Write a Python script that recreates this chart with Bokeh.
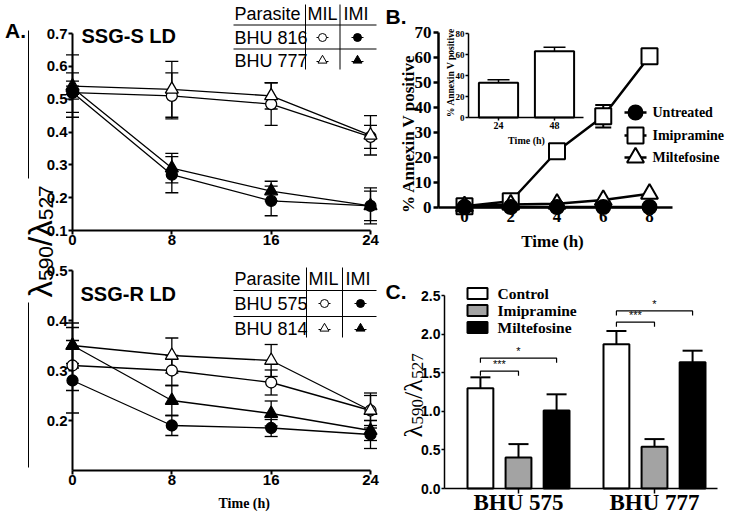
import math
from bokeh.plotting import figure
from bokeh.models import (Range1d, LinearAxis, FixedTicker, Whisker, TeeHead, Label,
                          ColumnDataSource)
from bokeh.core.properties import value
from bokeh.embed import file_html
from bokeh.resources import INLINE

# ======================= DATA =======================
# Panel A - time course (h)
time_a = [0, 8, 16, 24]
a_xticks = [0, 8, 16, 24]
a_top_yticks = [0.1, 0.2, 0.3, 0.4, 0.5, 0.6, 0.7]
a_top_ylabels = ["0.1", "0.2", "0.3", "0.4", "0.5", "0.6", "0.7"]
a_bot_yticks = [0.2, 0.3, 0.4, 0.5]
a_bot_ylabels = ["0.2", "0.3", "0.4", "0.5"]

# SSG-S LD
ssgs_816_mil = [0.52, 0.51, 0.485, 0.385]
ssgs_816_mil_err = [0.06, 0.07, 0.065, 0.035]
ssgs_777_mil = [0.54, 0.53, 0.51, 0.39]
ssgs_777_mil_err = [0.095, 0.085, 0.04, 0.06]
ssgs_816_imi = [0.52, 0.27, 0.19, 0.175]
ssgs_816_imi_err = [0.02, 0.055, 0.045, 0.055]
ssgs_777_imi = [0.535, 0.29, 0.22, 0.175]
ssgs_777_imi_err = [0.02, 0.045, 0.03, 0.045]

# SSG-R LD
ssgr_575_mil = [0.31, 0.30, 0.276, 0.22]
ssgr_575_mil_err = [0.05, 0.03, 0.025, 0.035]
ssgr_814_mil = [0.35, 0.33, 0.32, 0.22]
ssgr_814_mil_err = [0.036, 0.035, 0.032, 0.03]
ssgr_575_imi = [0.28, 0.19, 0.185, 0.172]
ssgr_575_imi_err = [0.065, 0.02, 0.017, 0.028]
ssgr_814_imi = [0.35, 0.24, 0.214, 0.18]
ssgr_814_imi_err = [0.045, 0.03, 0.025, 0.02]

# Panel B - % Annexin V positive
time_b = [0, 2, 4, 6, 8]
b_xticks = [0, 2, 4, 6, 8]
b_yticks = [0, 10, 20, 30, 40, 50, 60, 70]
b_untreated = [0.2, 0.2, 0.2, 0.2, 0.2]
b_imipramine = [0.5, 2.5, 22.5, 36.5, 60.5]
b_imipramine_err = [0, 0, 0, 4.5, 0]
b_miltefosine = [0.5, 1.2, 1.5, 3.0, 5.5]
b_series = ["Untreated", "Imipramine", "Miltefosine"]

# Panel B inset
inset_times = ["24", "48"]
inset_values = [33, 63]
inset_err = [3, 4]
inset_yticks = [0, 20, 40, 60, 80]

# Panel C
strains = ["BHU 575", "BHU 777"]
treatments = ["Control", "Imipramine", "Miltefosine"]
c_control = [1.30, 1.87]
c_control_err = [0.14, 0.17]
c_imipramine = [0.40, 0.54]
c_imipramine_err = [0.175, 0.10]
c_miltefosine = [1.01, 1.635]
c_miltefosine_err = [0.21, 0.15]
c_yticks = [0.0, 0.5, 1.0, 1.5, 2.0, 2.5]
c_ylabels = ["0.0", "0.5", "1.0", "1.5", "2.0", "2.5"]
sig_labels = ["***", "*"]
sig_heights = [[1.52, 1.69], [2.155, 2.30]]

# ======================= LAYOUT =======================
SANS = "Liberation Sans"
SERIF = "Liberation Serif"
W, H = 729, 517
X0, Y0 = 0, 0
GRAY = "#a3a3a3"


def lin(v0, p0, v1, p1):
    k = (v1 - v0) / (p1 - p0)
    return lambda px: v0 + (px - p0) * k


fxA = lin(0, 72, 24, 370)
fyAt = lin(0.1, 230, 0.7, 33)
fyAb = lin(0.1, 470, 0.5, 270)
fxB = lin(0, 464, 8, 649)
fyB = lin(0, 207, 70, 32)
fxI = lin(1, 498, 2, 554)
fyI = lin(0, 117, 80, 33)
fxC = lin(0, 518, 1, 654)
fyC = lin(0, 488, 2.5, 295)


def xr(f):
    return Range1d(start=f(X0), end=f(X0 + W))


def yr(f):
    return Range1d(start=f(Y0 + H), end=f(Y0))


p = figure(width=W, height=H, x_range=Range1d(X0, X0 + W), y_range=Range1d(Y0 + H, Y0),
           x_axis_type=None, y_axis_type=None, toolbar_location=None,
           output_backend="svg", min_border=0, outline_line_color=None)
p.min_border_left = 0
p.min_border_right = 0
p.min_border_top = 0
p.min_border_bottom = 0
p.extra_x_ranges = {"A": xr(fxA), "B": xr(fxB), "I": xr(fxI), "C": xr(fxC)}
p.extra_y_ranges = {"At": yr(fyAt), "Ab": yr(fyAb), "B": yr(fyB), "I": yr(fyI), "C": yr(fyC)}


def add_axis(side, xn, yn, loc, bounds, ticks, font, size, lw=2, tick_out=4, standoff=2,
             overrides=None, style="bold"):
    ax = LinearAxis(x_range_name=xn, y_range_name=yn, fixed_location=loc, bounds=bounds,
                    ticker=FixedTicker(ticks=ticks, minor_ticks=[]))
    ax.axis_line_width = lw
    ax.axis_line_color = "black"
    ax.major_tick_line_width = lw
    ax.major_tick_line_color = "black"
    ax.major_tick_out = tick_out
    ax.major_tick_in = 0
    ax.minor_tick_out = 0
    ax.minor_tick_in = 0
    ax.major_label_standoff = standoff
    ax.major_label_text_font = font
    ax.major_label_text_font_size = f"{size}px"
    ax.major_label_text_font_style = style
    ax.major_label_text_color = "black"
    if overrides:
        ax.major_label_overrides = overrides
    p.add_layout(ax, side)
    return ax


def lab(x, y, text, size, font=SANS, style="bold", align="left", baseline="middle", angle=0.0):
    p.add_layout(Label(x=x, y=y, text=text, text_font=font, text_font_size=f"{size}px",
                       text_font_style=style, text_align=align, text_baseline=baseline,
                       angle=angle, text_color="black"))


def whisk(xs, ys, errs, xn, yn, lw, cap, lower=True):
    keep = [i for i, e in enumerate(errs) if e > 0]
    src = ColumnDataSource(dict(
        x=[xs[i] for i in keep],
        lo=[(ys[i] - errs[i]) if lower else ys[i] for i in keep],
        hi=[ys[i] + errs[i] for i in keep]))
    p.add_layout(Whisker(source=src, base="x", lower="lo", upper="hi", dimension="height",
                         line_width=lw, line_color="black",
                         upper_head=TeeHead(size=cap, line_width=lw, line_color="black"),
                         lower_head=TeeHead(size=cap, line_width=lw, line_color="black") if lower else None,
                         x_range_name=xn, y_range_name=yn))


# ----------------------- Panel A -----------------------
add_axis("left", "A", "At", 0, (0.1, 0.7), a_top_yticks, SANS, 15, lw=2, tick_out=4, standoff=1,
         overrides=dict(zip(a_top_yticks, a_top_ylabels)))
add_axis("below", "A", "At", 0.1, (0, 24), a_xticks, SANS, 15, lw=2, tick_out=4, standoff=0)
add_axis("left", "A", "Ab", 0, (0.1, 0.5), a_bot_yticks, SANS, 15, lw=2, tick_out=4, standoff=1,
         overrides=dict(zip(a_bot_yticks, a_bot_ylabels)))
add_axis("below", "A", "Ab", 0.1, (0, 24), a_xticks, SANS, 15, lw=2, tick_out=4, standoff=0)

a_sets = [
    ("At", [(ssgs_816_mil, ssgs_816_mil_err, "circle", "white"),
            (ssgs_777_mil, ssgs_777_mil_err, "triangle", "white"),
            (ssgs_816_imi, ssgs_816_imi_err, "circle", "black"),
            (ssgs_777_imi, ssgs_777_imi_err, "triangle", "black")]),
    ("Ab", [(ssgr_575_mil, ssgr_575_mil_err, "circle", "white"),
            (ssgr_814_mil, ssgr_814_mil_err, "triangle", "white"),
            (ssgr_575_imi, ssgr_575_imi_err, "circle", "black"),
            (ssgr_814_imi, ssgr_814_imi_err, "triangle", "black")]),
]
for yn, series in a_sets:
    for ys, es, mk, fc in series:
        whisk(time_a, ys, es, "A", yn, 1.3, 13)
    for ys, es, mk, fc in series:
        p.line(time_a, ys, line_color="black", line_width=1.3, x_range_name="A", y_range_name=yn)
    for ys, es, mk, fc in series:
        p.scatter(time_a, ys, marker=mk, size=11 if mk == "circle" else 13, fill_color=fc,
                  line_color="black", line_width=1.3, x_range_name="A", y_range_name=yn)

# titles, tables
lab(15, 30, "A.", 21, align="center")
lab(81, 35, "SSG-S LD", 20)
lab(80, 293, "SSG-R LD", 20)
lab(218, 503, "Time (h)", 14, font=SERIF)

tables = [
    dict(top=4, bot=69, hdr=13, rows=[37, 60], hl=[24.5, 48.5], vl=[305, 339.5],
         names=["BHU 816", "BHU 777"], mil=307, imi=343, cm=322, ci=357),
    dict(top=267, bot=337, hdr=278, rows=[303, 328], hl=[290, 316], vl=[306, 342],
         names=["BHU 575", "BHU 814"], mil=308, imi=345, cm=324, ci=360),
]
for t in tables:
    lab(234, t["hdr"], "Parasite", 18, style="normal")
    lab(t["mil"], t["hdr"], "MIL", 18, style="normal")
    lab(t["imi"], t["hdr"], "IMI", 18, style="normal")
    for nm, ry in zip(t["names"], t["rows"]):
        lab(234, ry, nm, 18, style="normal")
    p.segment(x0=[233, 233], y0=t["hl"], x1=[376, 376], y1=t["hl"], line_color="black", line_width=1)
    p.segment(x0=t["vl"], y0=[t["top"]] * 2, x1=t["vl"], y1=[t["bot"]] * 2, line_color="black", line_width=1)
    r1, r2 = t["rows"]
    p.segment(x0=[t["cm"] - 6, t["ci"] - 6, t["cm"] - 6, t["ci"] - 6],
              y0=[r1, r1, r2 + 1, r2 + 1],
              x1=[t["cm"] + 6, t["ci"] + 6, t["cm"] + 6, t["ci"] + 6],
              y1=[r1, r1, r2 + 1, r2 + 1], line_color="black", line_width=1)
    p.scatter([t["cm"], t["ci"]], [r1, r1], marker="circle", size=8,
              fill_color=["white", "black"], line_color="black", line_width=1)
    p.scatter([t["cm"], t["ci"]], [r2, r2], marker="triangle", size=9,
              fill_color=["white", "black"], line_color="black", line_width=1)

# left y label of panel A (lambda590/lambda527) with rules
p.segment(x0=[28, 28], y0=[30, 302], x1=[28, 28], y1=[178, 467], line_color="black", line_width=1)
UP = math.pi / 2
lab(40, 297, "λ", 33, style="normal", baseline="alphabetic", angle=UP)
lab(45, 280.5, "590", 21, style="normal", baseline="alphabetic", angle=UP)
lab(40, 245.5, "/", 33, style="normal", baseline="alphabetic", angle=UP)
lab(40, 236.3, "λ", 33, style="normal", baseline="alphabetic", angle=UP)
lab(45, 219.8, "527", 21, style="normal", baseline="alphabetic", angle=UP)

# ----------------------- Panel B -----------------------
add_axis("left", "B", "B", fxB(438), (0, 70), b_yticks, SERIF, 17, lw=2.5, tick_out=5, standoff=2)
add_axis("below", "B", "B", 0, (fxB(438), fxB(672)), b_xticks, SERIF, 17, lw=2.5, tick_out=4, standoff=-1)

whisk(time_b, b_imipramine, b_imipramine_err, "B", "B", 2, 16)
for ys in (b_imipramine, b_miltefosine, b_untreated):
    p.line(time_b, ys, line_color="black", line_width=2.5, x_range_name="B", y_range_name="B")
p.scatter(time_b, b_imipramine, marker="square", size=16, fill_color="white", line_color="black",
          line_width=2, x_range_name="B", y_range_name="B")
p.scatter(time_b, b_miltefosine, marker="triangle", size=17, fill_color="white", line_color="black",
          line_width=2, x_range_name="B", y_range_name="B")
p.scatter(time_b, b_untreated, marker="circle", size=14, fill_color="black", line_color="black",
          line_width=2, x_range_name="B", y_range_name="B")

lab(385, 16, "B.", 21)
lab(408, 133, "% Annexin V positive", 17, font=SERIF, align="center", angle=UP)
lab(552, 241, "Time (h)", 17, font=SERIF, align="center")

# legend B
leg_y = [112, 135, 157]
p.segment(x0=[624] * 3, y0=leg_y, x1=[646] * 3, y1=leg_y, line_color="black", line_width=2.5)
p.scatter([635], [leg_y[0]], marker="circle", size=14, fill_color="black", line_color="black", line_width=2)
p.scatter([635], [leg_y[1]], marker="square", size=16, fill_color="white", line_color="black", line_width=2)
p.scatter([635], [leg_y[2]], marker="triangle", size=17, fill_color="white", line_color="black", line_width=2)
for nm, ly in zip(b_series, leg_y):
    lab(652, ly, nm, 14, font=SERIF)

# inset
inset_x = [i + 1 for i in range(len(inset_times))]
add_axis("left", "I", "I", fxI(468), (0, 80), inset_yticks, SERIF, 9, lw=1.5, tick_out=3, standoff=1)
add_axis("below", "I", "I", 0, (fxI(468), fxI(583)), inset_x, SERIF, 10, lw=1.5, tick_out=3, standoff=1,
         overrides=dict(zip(inset_x, inset_times)))
p.vbar(x=inset_x, top=inset_values, bottom=0, width=0.7, fill_color="white", line_color="black",
       line_width=2, x_range_name="I", y_range_name="I")
whisk(inset_x, inset_values, inset_err, "I", "I", 1.5, 22)
lab(450, 72, "% Annexin V positive", 9.5, font=SERIF, align="center", angle=UP)
lab(526, 140, "Time (h)", 10, font=SERIF, align="center")

# ----------------------- Panel C -----------------------
grp = list(range(len(strains)))
add_axis("left", "C", "C", fxC(444), (0, 2.5), c_yticks, SANS, 14, lw=1.5, tick_out=3, standoff=1,
         overrides=dict(zip(c_yticks, c_ylabels)))
add_axis("below", "C", "C", 0, (fxC(444), fxC(717)), grp, SERIF, 23, lw=1.5, tick_out=5, standoff=-4,
         overrides=dict(zip(grp, strains)))

offsets = [-0.28, 0.0, 0.28]
fills = ["white", GRAY, "black"]
c_vals = [(c_control, c_control_err), (c_imipramine, c_imipramine_err), (c_miltefosine, c_miltefosine_err)]
for off, fc, (vals, errs) in zip(offsets, fills, c_vals):
    xs = [g + off for g in grp]
    whisk(xs, vals, errs, "C", "C", 2, 20, lower=False)
    p.vbar(x=xs, top=vals, bottom=0, width=0.19, fill_color=fc, line_color="black", line_width=2,
           x_range_name="C", y_range_name="C")

bx, by, tx, ty, tt = [], [], [], [], []
d = 0.06
for g, hs in zip(grp, sig_heights):
    for (h, lbl, tgt) in zip(hs, sig_labels, [offsets[1], offsets[2]]):
        x0, x1 = g + offsets[0], g + tgt
        bx.append([x0, x0, x1, x1])
        by.append([h - d, h, h, h - d])
        tx.append((x0 + x1) / 2)
        ty.append(h + 0.015)
        tt.append(lbl)
p.multi_line(bx, by, line_color="black", line_width=1.2, x_range_name="C", y_range_name="C")
p.text(tx, ty, text=tt, text_font=value(SANS), text_font_size="11px", text_align="center",
       text_baseline="bottom", text_color="black", x_range_name="C", y_range_name="C")

lab(385, 291, "C.", 21)
# y label lambda590/lambda527 (serif)
lab(413, 437, "λ", 26, font=SERIF, style="normal", baseline="alphabetic", angle=UP)
lab(417, 424, "590", 17, font=SERIF, style="normal", baseline="alphabetic", angle=UP)
lab(413, 398.5, "/", 26, font=SERIF, style="normal", baseline="alphabetic", angle=UP)
lab(413, 391.3, "λ", 26, font=SERIF, style="normal", baseline="alphabetic", angle=UP)
lab(417, 378.3, "527", 17, font=SERIF, style="normal", baseline="alphabetic", angle=UP)

# legend C
cl_y = [293, 310, 327]
p.rect(x=[477] * 3, y=cl_y, width=20, height=11, fill_color=fills, line_color="black", line_width=2)
for nm, ly in zip(treatments, cl_y):
    lab(497, ly, nm, 15.5, font=SERIF)

open("out.html", "w").write(file_html(p, INLINE))
